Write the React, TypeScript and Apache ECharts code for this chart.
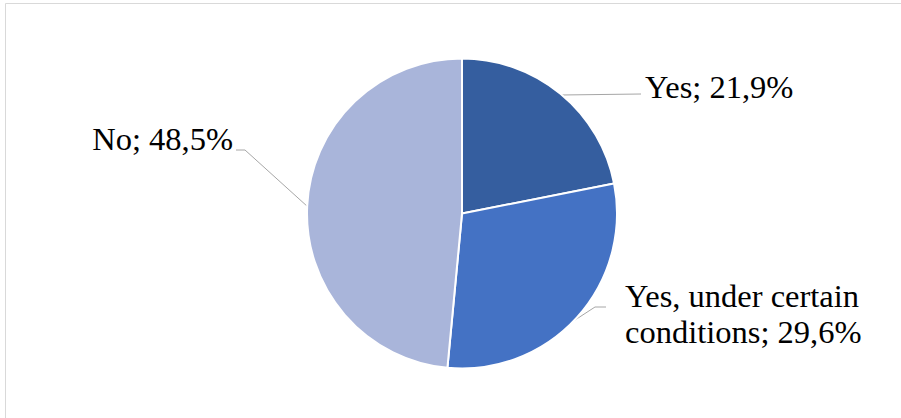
import React, { useEffect, useRef } from "react";
import * as echarts from "echarts";

const categories = ["Yes", "Yes, under certain\nconditions", "No"];
const values = [21.9, 29.6, 48.5];
const colors = ["#355E9F", "#4472C4", "#A9B5DA"];

const labelPos = [
  { x: 645, y: 87, align: "left", line: [[561, 95], [641, 94]] },
  { x: 625, y: 314, align: "left", line: [[575, 320], [595, 307], [606, 307]] },
  { x: 233, y: 139, align: "right", line: [[308, 207], [245, 150], [236, 150]] },
];

export default function App() {
  const ref = useRef<HTMLDivElement>(null);
  useEffect(() => {
    if (!ref.current) return;
    const chart = echarts.init(ref.current, undefined, { renderer: "svg" });
    chart.setOption({
      animation: false,
      backgroundColor: "#ffffff",
      graphic: [
        {
          type: "rect",
          shape: { x: 5.5, y: 3.5, width: 1000, height: 600 },
          style: { fill: "none", stroke: "#d9d9d9", lineWidth: 1 },
          silent: true,
        },
      ],
      series: [
        {
          type: "pie",
          center: [462, 213.5],
          radius: 155,
          startAngle: 90,
          clockwise: true,
          avoidLabelOverlap: false,
          itemStyle: { borderColor: "#ffffff", borderWidth: 2 },
          label: {
            show: true,
            position: "outside",
            color: "#000000",
            fontFamily: "Liberation Serif",
            fontSize: 32.5,
            lineHeight: 36,
            formatter: (p: any) =>
              p.dataIndex === 1
                ? "Yes, under certain\nconditions; " + String(p.value).replace(".", ",") + "%"
                : p.name + "; " + String(p.value).replace(".", ",") + "%",
          },
          labelLine: { show: true, lineStyle: { color: "#a6a6a6", width: 1 } },
          labelLayout: (params: any) => {
            const l = labelPos[params.dataIndex];
            return {
              x: l.x,
              y: l.y,
              align: l.align,
              verticalAlign: "middle",
              labelLinePoints: l.line,
            };
          },
          data: categories.map((c, i) => ({
            name: c,
            value: values[i],
            itemStyle: { color: colors[i] },
          })),
        },
      ],
    });
    return () => chart.dispose();
  }, []);
  return (
    <div
      ref={ref}
      style={{ position: "absolute", left: 0, top: 0, width: 901, height: 418 }}
    />
  );
}
